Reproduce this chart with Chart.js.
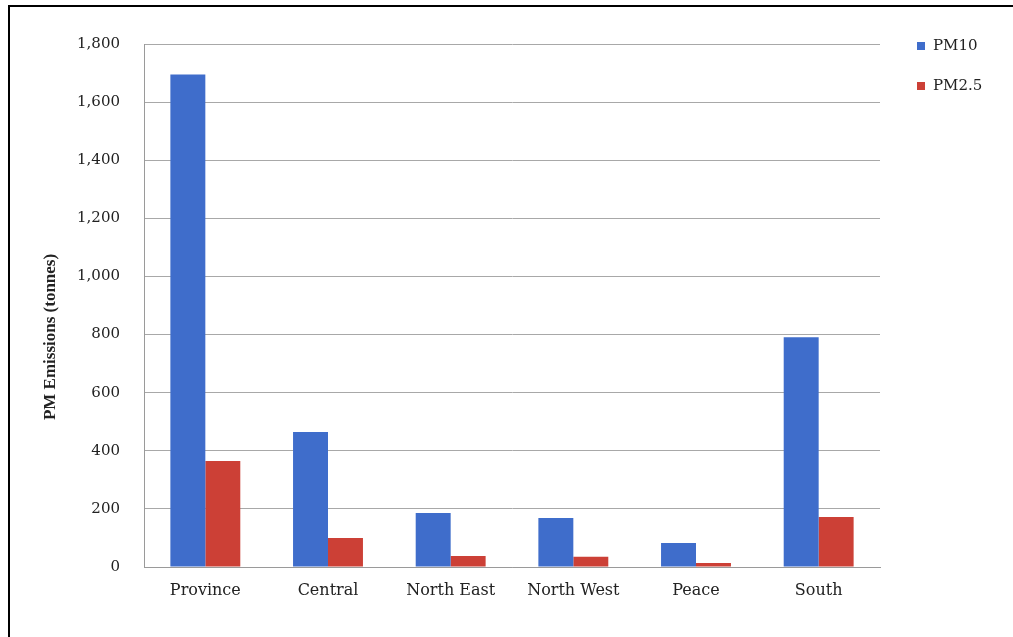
<!DOCTYPE html>
<html>
<head>
<meta charset="utf-8">
<script src="https://cdn.jsdelivr.net/npm/chart.js@4.4.1/dist/chart.umd.min.js"></script>
<style>
  body { margin: 0; background: #fff; }
  #marco { position: absolute; left: 8px; top: 5px; width: 1005px; height: 632px; border-top: 2px solid #000; border-left: 2px solid #000; }
  #grafico { position: absolute; left: 0; top: 0; }
</style>
</head>
<body>
<div id="marco"></div>
<canvas id="grafico" width="1013" height="637"></canvas>
<script>
// Regiones y emisiones (toneladas) por tipo de particula
const regiones = ['Province', 'Central', 'North East', 'North West', 'Peace', 'South'];
const pm10 = [1695, 465, 186, 169, 83, 791];
const pm25 = [365, 100, 38, 35, 14, 172];
const ejeY = { min: 0, max: 1800, paso: 200 };
const tituloY = 'PM Emissions (tonnes)';

const azul = '#3f6dcb';
const rojo = '#cc4036';

// Leyenda lateral y titulo del eje Y dibujados a mano
const extras = {
    id: 'extras',
    afterDraw(chart) {
        const ctx = chart.ctx;
        ctx.save();
        chart.data.datasets.forEach((ds, i) => {
            const y = 46 + i * 40;
            ctx.fillStyle = ds.backgroundColor;
            ctx.fillRect(917, y - 4, 8, 8);
            ctx.fillStyle = '#222';
            ctx.font = '15px "DejaVu Serif"';
            ctx.textBaseline = 'middle';
            ctx.textAlign = 'left';
            ctx.fillText(ds.label, 933, y);
        });
        // titulo vertical
        ctx.translate(51, 337);
        ctx.rotate(-Math.PI / 2);
        ctx.font = 'bold 17px "Liberation Serif"';
        ctx.textAlign = 'center';
        ctx.textBaseline = 'middle';
        ctx.fillStyle = '#222';
        ctx.fillText(tituloY, 0, 0);
        ctx.restore();
    }
};

new Chart(document.getElementById('grafico'), {
    type: 'bar',
    data: {
        labels: regiones,
        datasets: [
            { label: 'PM10', data: pm10, backgroundColor: azul },
            { label: 'PM2.5', data: pm25, backgroundColor: rojo }
        ]
    },
    options: {
        responsive: false,
        animation: false,
        locale: 'en-US',
        layout: { padding: { top: 44, right: 133, left: 0, bottom: 0 } },
        datasets: { bar: { categoryPercentage: 0.57, barPercentage: 1 } },
        plugins: {
            legend: { display: false },
            tooltip: { enabled: false }
        },
        scales: {
            x: {
                grid: { display: false, drawTicks: false },
                border: { color: '#9a9a9a' },
                ticks: { font: { family: 'DejaVu Serif', size: 16 }, color: '#222', padding: 14 },
                afterFit: (escala) => { escala.height = 70; }
            },
            y: {
                min: ejeY.min,
                max: ejeY.max,
                grid: { color: '#a8a8a8', drawTicks: false },
                border: { color: '#9a9a9a' },
                ticks: { stepSize: ejeY.paso, font: { family: 'DejaVu Serif', size: 15 }, color: '#222', padding: 24 },
                afterFit: (escala) => { escala.width = 144; }
            }
        }
    },
    plugins: [extras]
});
</script>
</body>
</html>
